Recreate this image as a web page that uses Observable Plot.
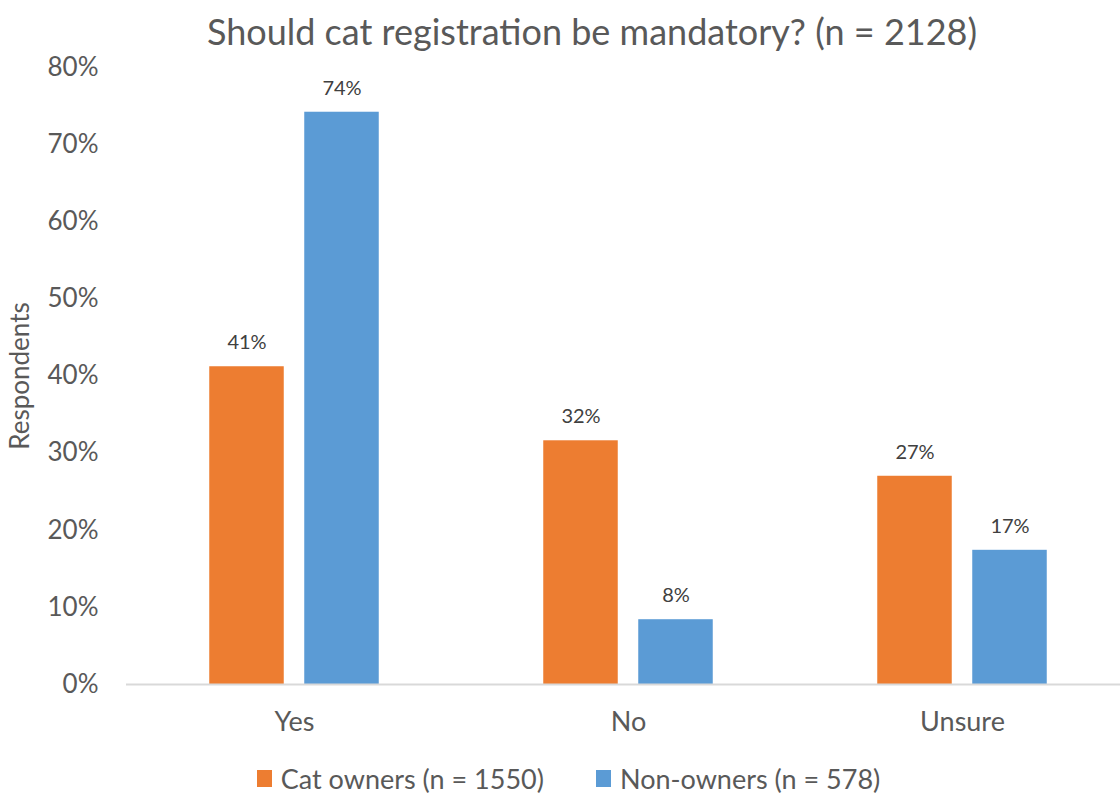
<!DOCTYPE html>
<html><head><meta charset="utf-8">
<script src="https://cdn.jsdelivr.net/npm/d3@7"></script>
<script src="https://cdn.jsdelivr.net/npm/@observablehq/plot@0.6"></script>
<style>
html,body{margin:0;padding:0;background:#fff;overflow:hidden;}
body{font-family:Lato,"Open Sans",sans-serif;color:#595959;width:1120px;height:793px;}
#title{height:60px;line-height:62px;text-align:center;font-size:36px;padding-left:64px;box-sizing:border-box;white-space:nowrap;}
#chart{height:680px;}
#legend{height:53px;box-sizing:border-box;padding-top:23px;padding-left:17px;display:flex;justify-content:center;align-items:center;font-size:27px;gap:52px;line-height:1;}
.item{display:flex;align-items:center;gap:9px;}
.sw{width:15px;height:17px;display:inline-block;}
</style></head><body>
<div id="title">Should cat registration be mandatory? (n = 2128)</div>
<div id="chart"></div>
<div id="legend"></div>
<script>
const categories = ["Yes", "No", "Unsure"];
const seriesNames = ["Cat owners (n = 1550)", "Non-owners (n = 578)"];
const catOwners = [41.2, 31.6, 27.0];
const nonOwners = [74.2, 8.4, 17.4];
const catOwnerLabels = ["41%", "32%", "27%"];
const nonOwnerLabels = ["74%", "8%", "17%"];
const yTicks = [0, 10, 20, 30, 40, 50, 60, 70, 80];
const colors = ["#ED7D31", "#5B9BD5"];

const ownersRows = categories.map((c, i) => ({cat: c, series: seriesNames[0], value: catOwners[i], label: catOwnerLabels[i]}));
const nonRows = categories.map((c, i) => ({cat: c, series: seriesNames[1], value: nonOwners[i], label: nonOwnerLabels[i]}));

const chart = Plot.plot({
  width: 1120,
  height: 680,
  marginTop: 7,
  marginBottom: 56,
  marginLeft: 126,
  marginRight: 0,
  style: {fontFamily: "Lato, 'Open Sans', sans-serif", color: "#595959", background: "#fff", overflow: "visible"},
  x: {domain: categories, range: [126, 1129.5], padding: 0},
  y: {domain: [0, 80]},
  marks: [
    Plot.barY(ownersRows, {x: "cat", y: "value", fill: colors[0], insetLeft: 82.25, insetRight: 177.25}),
    Plot.barY(nonRows, {x: "cat", y: "value", fill: colors[1], insetLeft: 177.25, insetRight: 82.25}),
    Plot.ruleY([0], {stroke: "#D9D9D9", strokeWidth: 2}),
    Plot.text(ownersRows, {x: "cat", y: "value", text: "label", dx: -47.5, dy: -24, fontSize: 20, fill: "#404040"}),
    Plot.text(nonRows, {x: "cat", y: "value", text: "label", dx: 47.5, dy: -24, fontSize: 20, fill: "#404040"}),
    Plot.axisX({tickSize: 0, tickPadding: 27, fontSize: 27, label: null}),
    Plot.axisY({ticks: yTicks, tickFormat: d => d + "%", tickSize: 0, tickPadding: 28, fontSize: 26,
      label: "Respondents", labelAnchor: "center", labelOffset: 116, labelArrow: "none"})
  ]
});
document.getElementById("chart").appendChild(chart);

const legend = document.getElementById("legend");
seriesNames.forEach((name, i) => {
  const item = document.createElement("div");
  item.className = "item";
  const sw = document.createElement("span");
  sw.className = "sw";
  sw.style.background = colors[i];
  const t = document.createElement("span");
  t.textContent = name;
  item.appendChild(sw);
  item.appendChild(t);
  legend.appendChild(item);
});
</script>
</body></html>
